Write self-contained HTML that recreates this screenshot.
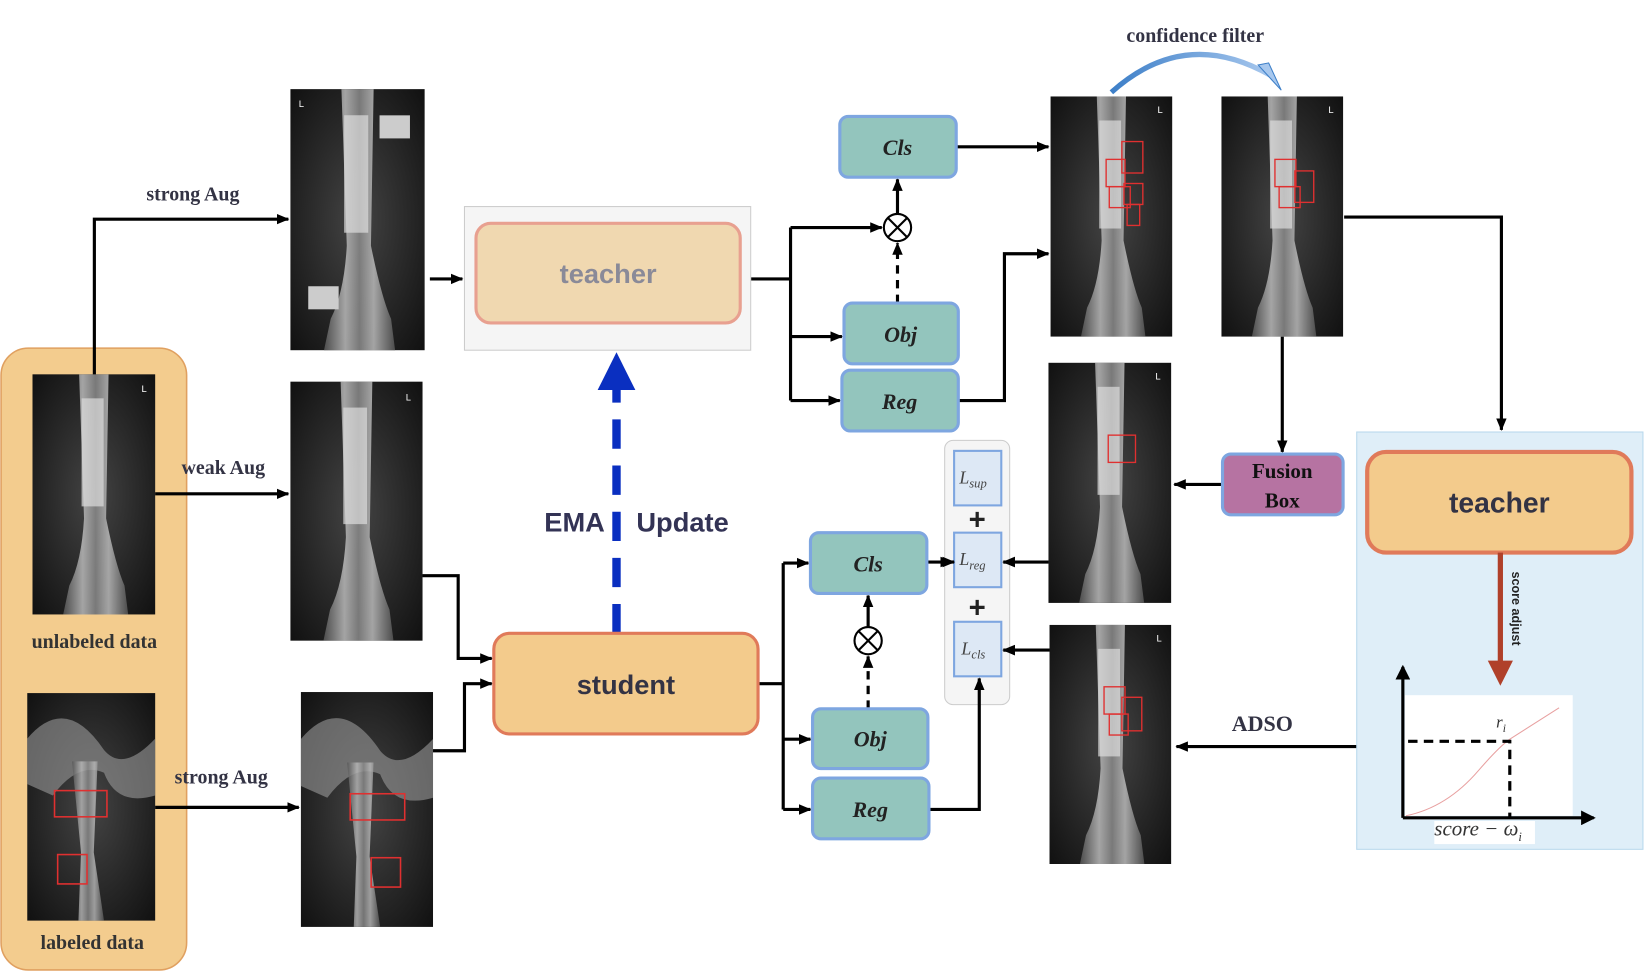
<!DOCTYPE html>
<html><head><meta charset="utf-8"><style>
html,body{margin:0;padding:0;background:#fff;}
svg{display:block;}
.ser{font-family:"Liberation Serif",serif;font-weight:bold;}
.san{font-family:"Liberation Sans",sans-serif;font-weight:bold;}
</style></head><body>
<svg width="1644" height="972" viewBox="0 0 1568 927" preserveAspectRatio="none" xmlns="http://www.w3.org/2000/svg">
<defs>
<marker id="ah" markerWidth="12" markerHeight="12" refX="11" refY="6" orient="auto" markerUnits="userSpaceOnUse"><path d="M0,1 L12,6 L0,11 Z" fill="#000"/></marker>
<marker id="ahb" markerWidth="14" markerHeight="14" refX="12" refY="7" orient="auto" markerUnits="userSpaceOnUse"><path d="M0,0 L14,7 L0,14 Z" fill="#000"/></marker>
<linearGradient id="bone" x1="0" x2="1"><stop offset="0" stop-color="#555"/><stop offset="0.3" stop-color="#bbb"/><stop offset="0.5" stop-color="#888"/><stop offset="0.7" stop-color="#bbb"/><stop offset="1" stop-color="#555"/></linearGradient>
<radialGradient id="bg" cx="0.5" cy="0.5" r="0.7"><stop offset="0" stop-color="#444"/><stop offset="1" stop-color="#111"/></radialGradient>
<linearGradient id="cf" x1="0" x2="1"><stop offset="0" stop-color="#3d7fc8"/><stop offset="1" stop-color="#a8c8ee"/></linearGradient>
<g id="xr">
<rect x="0" y="0" width="100" height="100" fill="url(#bg)"/>
<path d="M38,0 L62,0 L60,60 Q68,80 75,88 L78,100 L25,100 L30,88 Q40,78 42,60 Z" fill="url(#bone)" opacity="0.85"/>
<rect x="40" y="10" width="18" height="45" fill="#ddd" opacity="0.7"/>
</g>
<g id="hip">
<rect x="0" y="0" width="100" height="100" fill="url(#bg)"/>
<path d="M0,20 Q30,0 60,25 Q75,35 100,20 L100,45 Q70,50 60,35 Q40,30 20,45 L0,40 Z" fill="#999" opacity="0.6"/>
<path d="M35,30 L55,30 L52,70 L60,100 L40,100 L42,70 Z" fill="url(#bone)" opacity="0.8"/>
</g>
</defs>

<!-- left panel -->
<rect x="1" y="332" width="177" height="593" rx="26" fill="#f3cc8e" stroke="#e0a060" stroke-width="1.5"/>
<use href="#xr" transform="translate(31,357) scale(1.17,2.29)"/>
<use href="#hip" transform="translate(26,661) scale(1.22,2.17)"/>
<rect x="52" y="754" width="50" height="25" fill="none" stroke="#e03030" stroke-width="1.5"/>
<rect x="55" y="815" width="28" height="28" fill="none" stroke="#e03030" stroke-width="1.5"/>
<text x="90" y="618" text-anchor="middle" class="ser" font-size="19" fill="#333">unlabeled data</text>
<text x="88" y="905" text-anchor="middle" class="ser" font-size="19" fill="#333">labeled data</text>

<!-- aug images -->
<use href="#xr" transform="translate(277,85) scale(1.28,2.49)"/>
<rect x="362" y="110" width="29" height="22" fill="#ccc"/><rect x="294" y="273" width="29" height="22" fill="#ccc"/>
<use href="#xr" transform="translate(277,364) scale(1.26,2.47)"/>
<use href="#hip" transform="translate(287,660) scale(1.26,2.24)"/>
<rect x="334" y="757" width="52" height="25" fill="none" stroke="#e03030" stroke-width="1.5"/>
<rect x="354" y="818" width="28" height="28" fill="none" stroke="#e03030" stroke-width="1.5"/>

<!-- loss panel (drawn before connectors) -->
<rect x="901" y="420" width="62" height="252" rx="8" fill="#f5f5f5" stroke="#ccc"/>

<g stroke="#000" stroke-width="3" fill="none">
<path d="M90,357 V209 H275" marker-end="url(#ah)"/>
<path d="M148,471 H275" marker-end="url(#ah)"/>
<path d="M148,770 H285" marker-end="url(#ah)"/>
<path d="M410,266 H441" marker-end="url(#ah)"/>
<path d="M403,549 H437 V628 H469" marker-end="url(#ah)"/>
<path d="M413,716 H443 V652 H469" marker-end="url(#ah)"/>
<path d="M716,266 H754"/><path d="M754,217 V382"/>
<path d="M754,217 H841" marker-end="url(#ah)"/>
<path d="M754,321 H803" marker-end="url(#ah)"/>
<path d="M754,382 H801" marker-end="url(#ah)"/>
<path d="M856,289 V232" stroke-dasharray="8,6" marker-end="url(#ah)"/>
<path d="M856,204 V171" marker-end="url(#ah)"/>
<path d="M912,140 H1000" marker-end="url(#ah)"/>
<path d="M914,382 H958 V242 H1000" marker-end="url(#ah)"/>
<path d="M1282,207 H1432 V410" marker-end="url(#ah)"/>
<path d="M1223,321 V431" marker-end="url(#ah)"/>
<path d="M1166,462 H1120" marker-end="url(#ah)"/>
<path d="M1000,536 H957" marker-end="url(#ah)"/>
<path d="M1001,620 H957" marker-end="url(#ah)"/>
<path d="M884,536 H908" marker-end="url(#ah)"/>
<path d="M886,772 H934 V647" marker-end="url(#ah)"/>
<path d="M723,652 H747"/><path d="M747,537 V772"/>
<path d="M747,537 H771" marker-end="url(#ah)"/>
<path d="M747,705 H773" marker-end="url(#ah)"/>
<path d="M747,772 H773" marker-end="url(#ah)"/>
<path d="M828,676 V626" stroke-dasharray="8,6" marker-end="url(#ah)"/>
<path d="M828,598 V568" marker-end="url(#ah)"/>
<path d="M1294,712 H1122" marker-end="url(#ah)"/>
</g>
<text x="184" y="191" text-anchor="middle" class="ser" font-size="19" fill="#333344">strong Aug</text>
<text x="213" y="452" text-anchor="middle" class="ser" font-size="19" fill="#333344">weak Aug</text>
<text x="211" y="747" text-anchor="middle" class="ser" font-size="19" fill="#333344">strong Aug</text>

<!-- faded teacher -->
<rect x="443" y="197" width="273" height="137" fill="#f5f5f5" stroke="#ccc"/>
<rect x="454" y="213" width="252" height="95" rx="14" fill="#f0d8b0" stroke="#e8a090" stroke-width="3"/>
<text x="580" y="270" text-anchor="middle" class="san" font-size="26" fill="#8a8a98">teacher</text>

<!-- EMA -->
<path d="M588,604 V370" stroke="#0a2fc0" stroke-width="8" stroke-dasharray="28,16"/>
<path d="M570,372 L588,336 L606,372 Z" fill="#0a2fc0"/>
<text x="548" y="507" text-anchor="middle" class="san" font-size="26" fill="#333355">EMA</text>
<text x="651" y="507" text-anchor="middle" class="san" font-size="26" fill="#333355">Update</text>

<!-- student -->
<rect x="471" y="604" width="252" height="96" rx="15" fill="#f3cb8c" stroke="#e07a5a" stroke-width="3"/>
<text x="597" y="662" text-anchor="middle" class="san" font-size="26" fill="#333344">student</text>

<!-- heads -->
<g fill="#93c5bd" stroke="#7ea6e0" stroke-width="3">
<rect x="801" y="111" width="111" height="58" rx="8"/>
<rect x="805" y="289" width="109" height="58" rx="8"/>
<rect x="803" y="353" width="111" height="58" rx="8"/>
<rect x="773" y="508" width="111" height="58" rx="8"/>
<rect x="775" y="676" width="110" height="57" rx="8"/>
<rect x="775" y="742" width="111" height="58" rx="8"/>
</g>
<g class="ser" font-size="21" font-style="italic" text-anchor="middle" fill="#222">
<text x="856" y="148">Cls</text><text x="859" y="326">Obj</text><text x="858" y="390">Reg</text>
<text x="828" y="545">Cls</text><text x="830" y="712">Obj</text><text x="830" y="779">Reg</text>
</g>
<g stroke="#000" stroke-width="2" fill="#fff">
<circle cx="856" cy="217" r="13"/><path d="M847,208 L865,226 M865,208 L847,226"/>
<circle cx="828" cy="611" r="13"/><path d="M819,602 L837,620 M837,602 L819,620"/>
</g>

<!-- loss boxes -->
<g fill="#dde8f5" stroke="#7ea6e0" stroke-width="2">
<rect x="910" y="430" width="45" height="52"/><rect x="910" y="508" width="45" height="52"/><rect x="910" y="593" width="45" height="52"/>
</g>
<g font-family="Liberation Serif,serif" font-style="italic" fill="#444">
<text x="915" y="461" font-size="17">L<tspan font-size="12" dy="4">sup</tspan></text>
<text x="915" y="539" font-size="17">L<tspan font-size="12" dy="4">reg</tspan></text>
<text x="917" y="624" font-size="17">L<tspan font-size="12" dy="4">cls</tspan></text>
</g>
<g stroke="#000" stroke-width="3" fill="none">
<path d="M966,536 H957" marker-end="url(#ah)"/>
<path d="M966,620 H957" marker-end="url(#ah)"/>
<path d="M899,536 H910" marker-end="url(#ah)"/>
</g>
<text x="932" y="505" text-anchor="middle" class="san" font-size="28" fill="#222">+</text>
<text x="932" y="589" text-anchor="middle" class="san" font-size="28" fill="#222">+</text>

<!-- right xrays -->
<use href="#xr" transform="translate(1002,92) scale(1.16,2.29)"/>
<use href="#xr" transform="translate(1165,92) scale(1.16,2.29)"/>
<use href="#xr" transform="translate(1000,346) scale(1.17,2.29)"/>
<use href="#xr" transform="translate(1001,596) scale(1.16,2.28)"/>
<g fill="none" stroke="#e03030" stroke-width="1.3">
<rect x="1055" y="152" width="18" height="26"/><rect x="1070" y="135" width="20" height="30"/><rect x="1058" y="178" width="20" height="20"/><rect x="1072" y="175" width="18" height="20"/><rect x="1075" y="195" width="12" height="20"/>
<rect x="1216" y="152" width="20" height="26"/><rect x="1235" y="163" width="18" height="30"/><rect x="1220" y="178" width="20" height="20"/>
<rect x="1057" y="415" width="26" height="26"/>
<rect x="1053" y="655" width="20" height="26"/><rect x="1070" y="665" width="19" height="32"/><rect x="1058" y="681" width="18" height="20"/>
</g>
<g fill="#fff" font-family="Liberation Sans,sans-serif" font-size="9">
<text x="1104" y="108">L</text><text x="1267" y="108">L</text><text x="1102" y="362">L</text><text x="1103" y="612">L</text><text x="135" y="374">L</text><text x="387" y="382">L</text><text x="285" y="102">L</text>
</g>

<!-- confidence filter -->
<path d="M1060,88 Q1130,25 1212,72" fill="none" stroke="url(#cf)" stroke-width="5"/>
<path d="M1200,62 L1222,86 L1210,60 Z" fill="#a8c8ee" stroke="#3d7fc8"/>
<text x="1140" y="40" text-anchor="middle" class="ser" font-size="19" fill="#333344">confidence filter</text>

<!-- fusion -->
<rect x="1166" y="433" width="115" height="58" rx="8" fill="#b673a2" stroke="#7ea6e0" stroke-width="3"/>
<text x="1223" y="456" text-anchor="middle" class="ser" font-size="20" fill="#111">Fusion</text>
<text x="1223" y="484" text-anchor="middle" class="ser" font-size="20" fill="#111">Box</text>

<!-- right panel -->
<rect x="1294" y="412" width="273" height="398" fill="#dfeef8" stroke="#b8d8ec"/>
<rect x="1304" y="431" width="252" height="96" rx="18" fill="#f3cb8c" stroke="#e07a5a" stroke-width="4"/>
<text x="1430" y="489" text-anchor="middle" class="san" font-size="27" fill="#333344">teacher</text>
<path d="M1431,527 V634" stroke="#b0402a" stroke-width="5"/>
<path d="M1419,630 L1431,654 L1443,630 Z" fill="#b0402a"/>
<text transform="translate(1442,545) rotate(90)" class="san" font-size="12" fill="#222">score adjust</text>
<rect x="1340" y="663" width="160" height="115" fill="#fff"/>
<rect x="1368" y="783" width="96" height="22" fill="#fff"/>
<path d="M1341,778 Q1380,770 1410,735 Q1430,712 1440,705 L1487,675" fill="none" stroke="#e8a0a0" stroke-width="1"/>
<g stroke="#000" stroke-width="3" fill="none">
<path d="M1338,780 V636" marker-end="url(#ahb)"/>
<path d="M1338,780 H1520" marker-end="url(#ahb)"/>
<path d="M1343,707 H1440 V780" stroke-dasharray="9,6"/>
</g>
<text x="1427" y="694" font-family="Liberation Serif,serif" font-style="italic" font-size="16" fill="#333">r<tspan font-size="11" dy="4">i</tspan></text>
<text x="1368" y="797" font-family="Liberation Serif,serif" font-style="italic" font-size="20" fill="#333">score − ω<tspan font-size="12" dy="5">i</tspan></text>
<text x="1204" y="697" text-anchor="middle" class="ser" font-size="21" fill="#333344">ADSO</text>
</svg>
</body></html>
